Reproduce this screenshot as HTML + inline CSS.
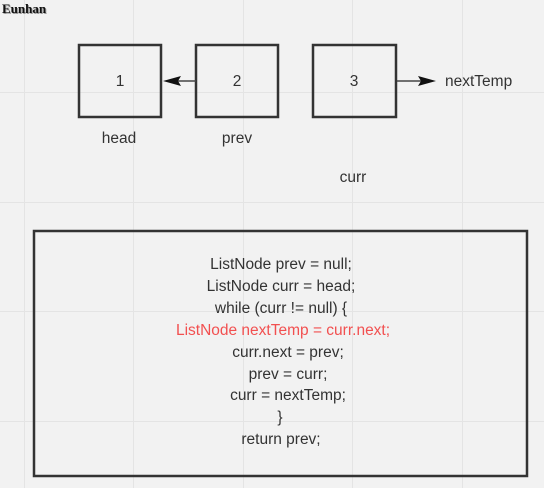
<!DOCTYPE html>
<html><head><meta charset="utf-8"><style>
html,body{margin:0;padding:0;background:#f2f2f2;}
svg{display:block;}
text{font-family:"Liberation Sans",sans-serif;font-size:15.5px;fill:#333;}
</style></head><body>
<svg width="544" height="488" viewBox="0 0 544 488" xmlns="http://www.w3.org/2000/svg">
<rect width="544" height="488" fill="#f2f2f2"/>
<g stroke="#e4e4e4" stroke-width="1">
<line x1="24.5" y1="0" x2="24.5" y2="488"/>
<line x1="133.5" y1="0" x2="133.5" y2="488"/>
<line x1="243.5" y1="0" x2="243.5" y2="488"/>
<line x1="352.5" y1="0" x2="352.5" y2="488"/>
<line x1="462.5" y1="0" x2="462.5" y2="488"/>
<line x1="0" y1="92.5" x2="544" y2="92.5"/>
<line x1="0" y1="202.5" x2="544" y2="202.5"/>
<line x1="0" y1="311.5" x2="544" y2="311.5"/>
<line x1="0" y1="421.5" x2="544" y2="421.5"/>
</g>
<text x="3" y="14" style="font-family:'Liberation Serif',serif;font-size:13px;font-weight:bold;fill:#999">Eunhan</text>
<text x="2" y="13" style="font-family:'Liberation Serif',serif;font-size:13px;font-weight:bold;fill:#111">Eunhan</text>
<g fill="none" stroke="#333" stroke-width="2.5">
<rect x="79" y="45" width="82" height="72"/>
<rect x="196" y="45" width="82" height="72"/>
<rect x="313" y="45" width="83" height="72"/>
<rect x="34" y="231" width="493" height="245"/>
</g>
<line x1="196" y1="81" x2="175" y2="81" stroke="#444" stroke-width="1.5"/>
<polygon points="163,81 181,76 178,81 181,86" fill="#111"/>
<line x1="397" y1="81" x2="422" y2="81" stroke="#444" stroke-width="1.5"/>
<polygon points="436,81 418,76 421,81 418,86" fill="#111"/>
<g text-anchor="middle">
<text x="120" y="86">1</text>
<text x="237" y="86">2</text>
<text x="354" y="86">3</text>
<text x="119" y="143">head</text>
<text x="237" y="143">prev</text>
<text x="353" y="182">curr</text>
</g>
<text x="445" y="86">nextTemp</text>
<g text-anchor="middle">
<text x="281" y="269">ListNode prev = null;</text>
<text x="281" y="291">ListNode curr = head;</text>
<text x="281" y="313">while (curr != null) {</text>
<text x="283" y="335" style="fill:#f25050">ListNode nextTemp = curr.next;</text>
<text x="288" y="357">curr.next = prev;</text>
<text x="288" y="379">prev = curr;</text>
<text x="288" y="400">curr = nextTemp;</text>
<text x="280" y="422">}</text>
<text x="281" y="444">return prev;</text>
</g>
</svg>
</body></html>
